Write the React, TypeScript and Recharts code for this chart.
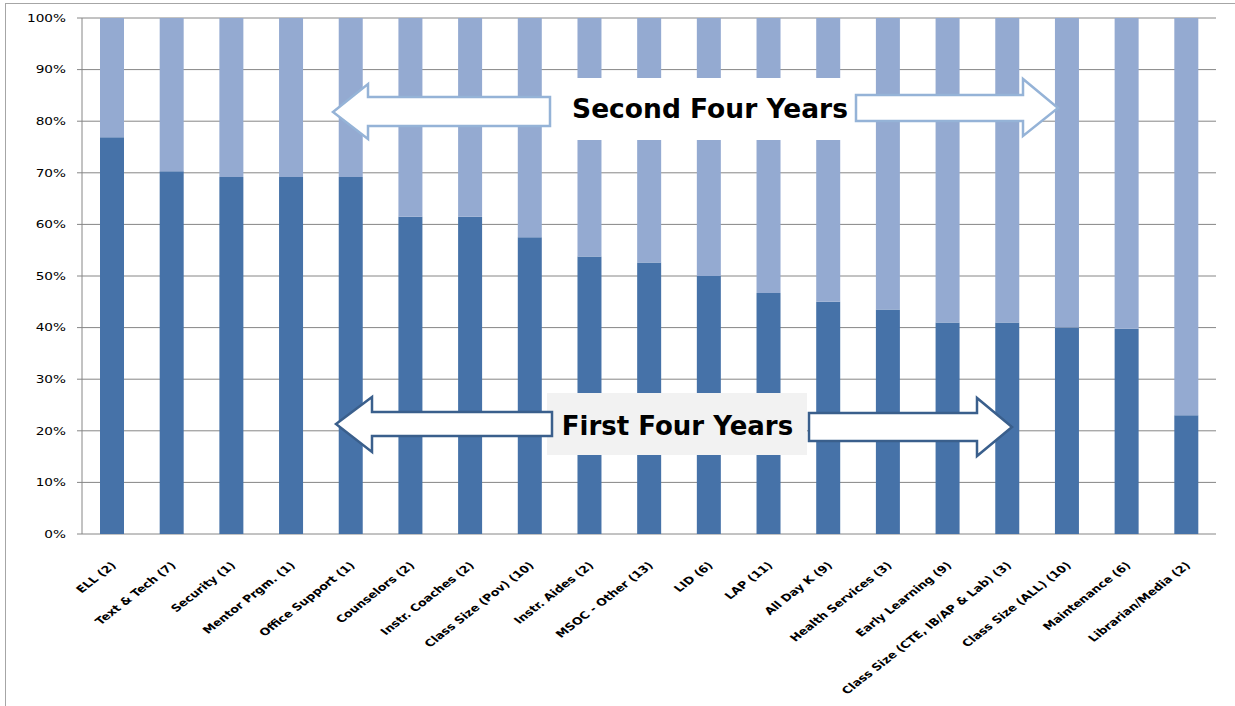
import React from 'react';
import { BarChart, Bar, XAxis, YAxis, CartesianGrid } from 'recharts';

const categories = [
  'ELL (2)', 'Text & Tech (7)', 'Security (1)', 'Mentor Prgm. (1)', 'Office Support (1)',
  'Counselors (2)', 'Instr. Coaches (2)', 'Class Size (Pov) (10)', 'Instr. Aides (2)',
  'MSOC - Other (13)', 'LID (6)', 'LAP (11)', 'All Day K (9)', 'Health Services (3)',
  'Early Learning (9)', 'Class Size (CTE, IB/AP & Lab) (3)', 'Class Size (ALL) (10)',
  'Maintenance (6)', 'Librarian/Media (2)',
];
const firstFourYears = [76.9, 70.3, 69.2, 69.2, 69.2, 61.5, 61.5, 57.5, 53.8, 52.6, 50.0, 46.7, 45.0, 43.5, 41.0, 41.0, 40.0, 39.8, 23.0];
const secondFourYears = [23.1, 29.7, 30.8, 30.8, 30.8, 38.5, 38.5, 42.5, 46.2, 47.4, 50.0, 53.3, 55.0, 56.5, 59.0, 59.0, 60.0, 60.2, 77.0];
const yTicks = [0, 10, 20, 30, 40, 50, 60, 70, 80, 90, 100];
const boundaryTicks = [0, 1, 2, 3, 4, 5, 6, 7, 8, 9, 10, 11, 12, 13, 14, 15, 16, 17, 18, 19];

const data = categories.map((name, i) => ({
  name,
  idx: i + 0.5,
  first: firstFourYears[i],
  second: secondFourYears[i],
}));

const DARK = '#4672A8';
const LIGHT = '#94AAD1';
const AXIS = '#868686';

const CatTick = (props: any) => {
  const { x, y, payload } = props;
  return (
    <g transform={`translate(${x + 5},${y + 24}) scale(1.28,1)`}>
      <text
        x={0}
        y={0}
        transform="rotate(-45)"
        textAnchor="end"
        fontFamily="DejaVu Sans"
        fontWeight="bold"
        fontSize={10}
        fill="#000"
      >
        {payload.value}
      </text>
    </g>
  );
};

const YTick = (props: any) => {
  const { x, y, payload } = props;
  return (
    <g transform={`translate(${x},${y}) scale(1.3,1)`}>
      <text
        x={0}
        y={0}
        dy="0.36em"
        textAnchor="end"
        fontFamily="DejaVu Sans"
        fontSize={10.5}
        fill="#000"
      >
        {`${payload.value}%`}
      </text>
    </g>
  );
};

const Overlay = () => (
  <svg
    width={1235}
    height={706}
    style={{ position: 'absolute', left: 0, top: 0, pointerEvents: 'none' }}
  >
    {/* Second Four Years */}
    <rect x={548} y={78} width={310} height={62} fill="#FFFFFF" />
    <polygon
      points="550,97 368,97 368,84 333,112 368,139 368,126 550,126"
      fill="#FFFFFF"
      stroke="#95B3D7"
      strokeWidth={2.5}
      strokeLinejoin="miter"
    />
    <polygon
      points="856,95 1023,95 1023,79 1058,108 1023,136 1023,121 856,121"
      fill="#FFFFFF"
      stroke="#95B3D7"
      strokeWidth={2.5}
    />
    <text
      x={710}
      y={118}
      textAnchor="middle"
      fontFamily="DejaVu Sans"
      fontWeight="bold"
      fontSize={26.5}
      fill="#000"
    >
      Second Four Years
    </text>

    {/* First Four Years */}
    <rect x={547} y={393} width={260} height={62} fill="#F2F2F2" />
    <polygon
      points="552,412 372,412 372,397 336,424 372,452 372,436 552,436"
      fill="#FFFFFF"
      stroke="#3A5F8C"
      strokeWidth={2.5}
    />
    <polygon
      points="809,413 977,413 977,398 1012,427 977,456 977,441 809,441"
      fill="#FFFFFF"
      stroke="#3A5F8C"
      strokeWidth={2.5}
    />
    <text
      x={677.5}
      y={435}
      textAnchor="middle"
      fontFamily="DejaVu Sans"
      fontWeight="bold"
      fontSize={26}
      fill="#000"
    >
      First Four Years
    </text>
  </svg>
);

export default function App() {
  return (
    <div
      style={{
        position: 'absolute',
        left: 0,
        top: 0,
        width: 1235,
        height: 706,
        overflow: 'hidden',
        background: '#FFFFFF',
      }}
    >
      <div
        style={{
          position: 'absolute',
          left: 5,
          top: 3,
          width: 1300,
          height: 800,
          border: '1px solid #A6A6A6',
        }}
      />
      <div style={{ position: 'absolute', left: 0, top: 0 }}>
        <BarChart
          width={1235}
          height={706}
          data={data}
          margin={{ top: 18, right: 19, left: 2, bottom: 12 }}
          barSize={24}
        >
          <CartesianGrid horizontal vertical={false} stroke={AXIS} strokeWidth={1} />
          <XAxis
            xAxisId="bounds"
            type="number"
            dataKey="idx"
            domain={[0, 19]}
            ticks={boundaryTicks}
            allowDataOverflow
            height={0}
            tick={false}
            tickSize={5}
            tickLine={{ stroke: AXIS }}
            axisLine={{ stroke: AXIS }}
          />
          <XAxis
            dataKey="name"
            type="category"
            interval={0}
            height={160}
            tickLine={false}
            axisLine={false}
            tick={<CatTick />}
          />
          <YAxis
            width={80}
            domain={[0, 100]}
            ticks={yTicks}
            tickSize={5}
            tickMargin={11}
            tickLine={{ stroke: AXIS }}
            axisLine={{ stroke: AXIS }}
            tick={<YTick />}
          />
          <Bar dataKey="first" stackId="a" fill={DARK} isAnimationActive={false} />
          <Bar dataKey="second" stackId="a" fill={LIGHT} isAnimationActive={false} />
        </BarChart>
      </div>
      <Overlay />
    </div>
  );
}
